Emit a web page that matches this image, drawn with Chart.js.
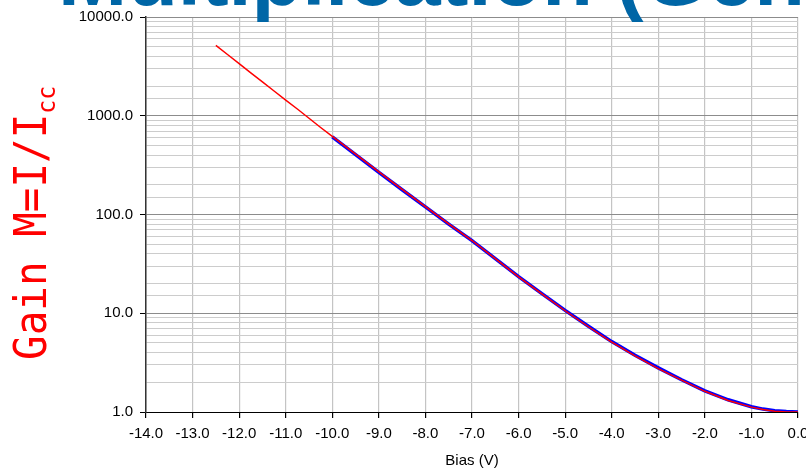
<!DOCTYPE html>
<html>
<head>
<meta charset="utf-8">
<script src="https://cdn.jsdelivr.net/npm/chart.js@4"></script>
<style>
  html, body { margin: 0; padding: 0; background: #fff; overflow: hidden; }
  #gainChart { display: block; }
</style>
</head>
<body>
<canvas id="gainChart" width="806" height="470"></canvas>
<script>
// Datos (Bias en V, ganancia M)
const biasRed = [-12.5, -12.25, -12, -11.75, -11.5, -11.25, -11, -10.75, -10.5, -10.25, -10,
  -9.5, -9, -8.5, -8, -7.5, -7, -6.5, -6, -5.5, -5, -4.5, -4, -3.5, -3, -2.5, -2, -1.5, -1,
  -0.75, -0.5, -0.25, 0];
const gainRed = [5150, 4170, 3370, 2720, 2200, 1780, 1440, 1170, 944, 760, 617,
  408, 270, 180, 120, 80.5, 54.5, 35.8, 23.4, 15.7, 10.6, 7.3, 5.1, 3.7, 2.75, 2.1, 1.62, 1.31, 1.12,
  1.06, 1.02, 1.0, 1.0];

const biasBlue = [-10, -9.5, -9, -8.5, -8, -7.5, -7, -6.5, -6, -5.5, -5, -4.5, -4, -3.5, -3,
  -2.5, -2, -1.5, -1, -0.75, -0.5, -0.25, 0];
const gainBlue = [612, 403, 267, 178, 119.5, 80, 54.3, 35.8, 23.5, 15.8, 10.7, 7.38, 5.16, 3.75, 2.8,
  2.12, 1.64, 1.33, 1.13, 1.07, 1.03, 1.01, 1.0];

const xMin = -14;
const xMax = 0;
const yMin = 1;
const yMax = 10000;

const slideTitle = 'Multiplication (Gen';
const gainText = 'Gain M=I/I';
const gainSub = 'cc';
const xTitle = 'Bias (V)';

const esDecada = (v) => Math.abs(Math.log10(v) - Math.round(Math.log10(v))) < 1e-9;

function toPoints(xs, ys) {
  return xs.map((x, i) => ({ x: x, y: ys[i] }));
}

// titulo de la diapositiva (cortado arriba) y etiqueta del eje y
const slideText = {
  id: 'slideText',
  afterDraw(chart) {
    const ctx = chart.ctx;
    ctx.save();
    ctx.fillStyle = '#0066a6';
    ctx.font = 'bold 83px "Liberation Sans", Arial, sans-serif';
    ctx.textBaseline = 'alphabetic';
    ctx.fillText(slideTitle, 58, 5);
    ctx.restore();

    ctx.save();
    ctx.translate(46, 360);
    ctx.rotate(-Math.PI / 2);
    ctx.scale(0.93, 1);
    ctx.fillStyle = '#ff0000';
    ctx.textBaseline = 'alphabetic';
    ctx.font = '44px "DejaVu Sans Mono", monospace';
    const w = ctx.measureText(gainText).width;
    ctx.fillText(gainText, 0, 0);
    ctx.font = '25px "DejaVu Sans Mono", monospace';
    ctx.fillText(gainSub, w, 9);
    ctx.restore();
  }
};

const ctx = document.querySelector('#gainChart');

new Chart(ctx, {
  type: 'line',
  data: {
    datasets: [
      {
        label: 'rojo',
        data: toPoints(biasRed, gainRed),
        borderColor: '#ff0000',
        borderWidth: 1.5,
        pointRadius: 0,
        tension: 0,
        fill: false
      },
      {
        label: 'azul',
        data: toPoints(biasBlue, gainBlue),
        borderColor: '#0000ff',
        borderWidth: 3.5,
        pointRadius: 0,
        tension: 0,
        fill: false
      }
    ]
  },
  options: {
    responsive: false,
    animation: false,
    devicePixelRatio: 1,
    layout: { padding: { top: 17, right: 8, left: 0, bottom: 0 } },
    plugins: {
      legend: { display: false },
      tooltip: { enabled: false }
    },
    scales: {
      x: {
        type: 'linear',
        min: xMin,
        max: xMax,
        afterFit: (scale) => {
          scale.height = 58;
          scale.paddingLeft = 0;
          scale.paddingRight = 0;
        },
        ticks: {
          stepSize: 1,
          maxRotation: 0,
          autoSkip: false,
          padding: 7,
          color: '#000',
          font: { family: '"Liberation Sans", Arial, sans-serif', size: 15 },
          callback: (v) => Number(v).toFixed(1)
        },
        grid: {
          color: '#c4c4c4',
          lineWidth: 1.2,
          tickColor: '#000',
          tickLength: 6
        },
        border: { color: '#000', width: 1 },
        title: {
          display: true,
          text: xTitle,
          color: '#000',
          font: { family: '"Liberation Sans", Arial, sans-serif', size: 15 },
          padding: { top: 0, bottom: 0 }
        }
      },
      y: {
        type: 'logarithmic',
        min: yMin,
        max: yMax,
        afterFit: (scale) => {
          scale.width = 146;
          scale.paddingTop = 0;
          scale.paddingBottom = 0;
        },
        ticks: {
          autoSkip: false,
          padding: 7,
          color: '#000',
          font: { family: '"Liberation Sans", Arial, sans-serif', size: 15 },
          callback: (v) => esDecada(v) ? Number(v).toFixed(1) : ''
        },
        grid: {
          color: (c) => (c.tick && esDecada(c.tick.value)) ? '#8c8c8c' : '#cccccc',
          lineWidth: 1,
          tickColor: (c) => (c.tick && esDecada(c.tick.value)) ? '#000' : 'rgba(0,0,0,0)',
          tickLength: 6
        },
        border: { color: '#333', width: 1.5 }
      }
    }
  },
  plugins: [slideText]
});
</script>
</body>
</html>
